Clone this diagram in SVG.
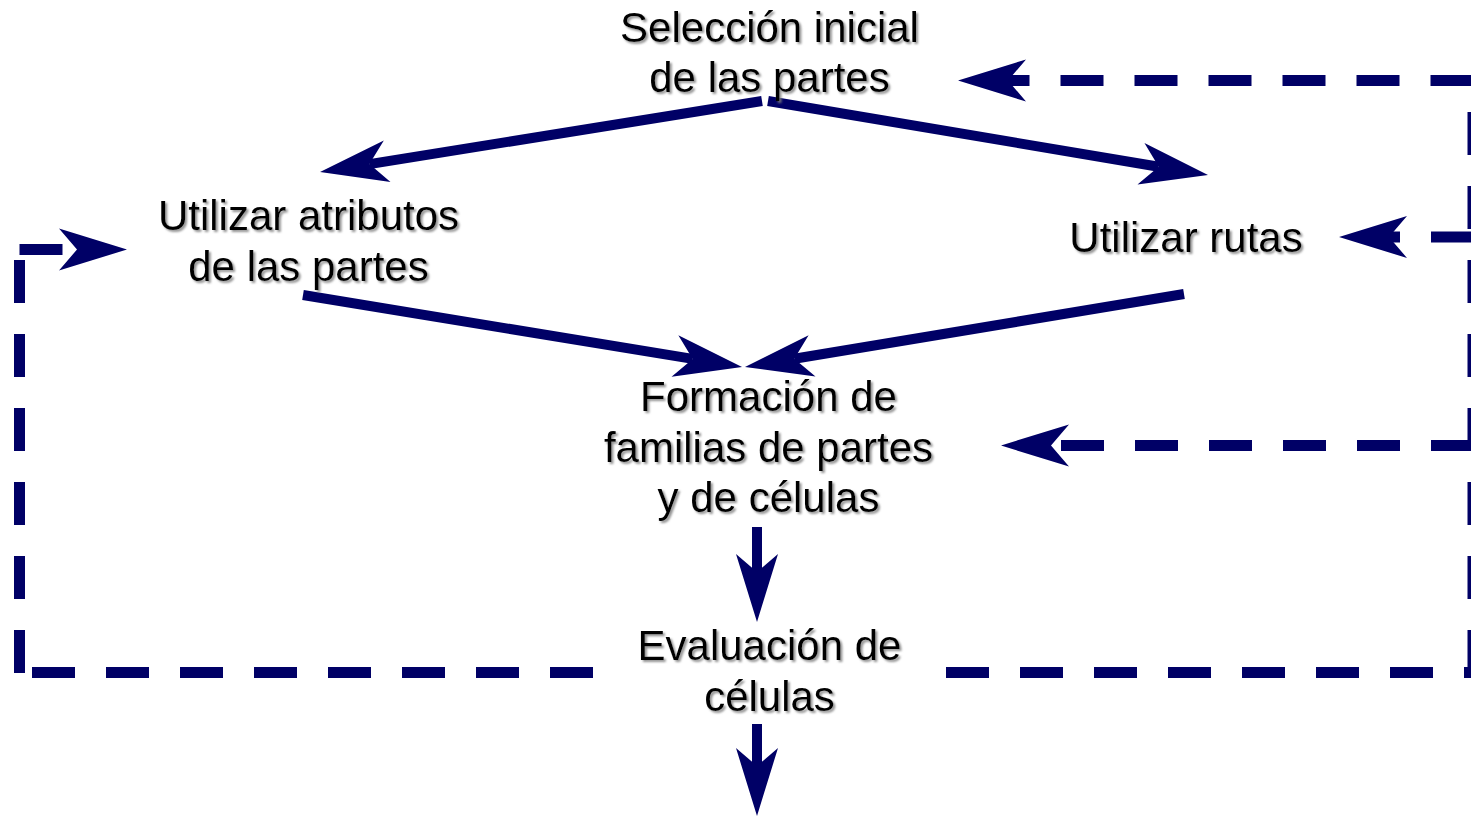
<svg xmlns="http://www.w3.org/2000/svg" width="1471" height="817" viewBox="0 0 1471 817">
  <style>
    .lbl { font-family: "Liberation Sans", Arial, sans-serif; font-size: 42px; fill: #000; text-anchor: middle; filter: url(#shadow); }
    .solid { fill: none; stroke: #000066; stroke-width: 10; marker-end: url(#ah); }
    .dash { fill: none; stroke: #000066; stroke-width: 11; stroke-dasharray: 43 31; }
    .dashArrow { marker-end: url(#ah); }
  </style>
  <defs>
    <filter id="shadow" x="-10%" y="-30%" width="120%" height="160%">
      <feDropShadow dx="2" dy="2" stdDeviation="0.8" flood-color="#808080" flood-opacity="0.85"/>
    </filter>
    <marker id="ah" markerUnits="userSpaceOnUse" viewBox="-70 -25 75 50" markerWidth="75" markerHeight="50" refX="-50" refY="0" orient="auto">
      <path d="M0,0 L-68,-21 L-50,0 L-68,21 Z" fill="#000066"/>
    </marker>
  </defs>
  <rect width="1471" height="817" fill="#fff"/>

  <g id="connectors">
    <!-- solid arrows -->
    <path class="solid" d="M762,101 L369.4,164.1"/>
    <path class="solid" d="M768,101 L1158.7,166.7"/>
    <path class="solid" d="M303,295 L692.7,358.9"/>
    <path class="solid" d="M1184,294 L794.3,358.8"/>
    <path class="solid" d="M757,527 V572"/>
    <path class="solid" d="M757,724 V766"/>

    <!-- dashed feedback lines -->
    <path class="dash dashArrow" d="M1473,673 V80.5 H1008" style="stroke-dashoffset:0"/>
    <path class="dash dashArrow" d="M1474,237 H1389"/>
    <path class="dash dashArrow" d="M1474,445.5 H1051"/>
    <path class="dash" d="M946,672.5 H1480"/>
    <path class="dash" d="M32,672.5 H593"/>
    <path class="dash" d="M19.5,260 V673"/>
    <path class="dash dashArrow" d="M19.5,249.5 H77"/>
  </g>

  <g id="seleccion">
    <text class="lbl" x="769.5" y="42">Selección inicial</text>
    <text class="lbl" x="769.5" y="92">de las partes</text>
  </g>
  <g id="atributos">
    <text class="lbl" x="308.5" y="230">Utilizar atributos</text>
    <text class="lbl" x="308.5" y="281">de las partes</text>
  </g>
  <g id="rutas">
    <text class="lbl" x="1186" y="252">Utilizar rutas</text>
  </g>
  <g id="formacion">
    <text class="lbl" x="768.5" y="411">Formación de</text>
    <text class="lbl" x="768.5" y="462">familias de partes</text>
    <text class="lbl" x="768.5" y="512">y de células</text>
  </g>
  <g id="evaluacion">
    <text class="lbl" x="769.5" y="660">Evaluación de</text>
    <text class="lbl" x="769.5" y="711">células</text>
  </g>
</svg>
